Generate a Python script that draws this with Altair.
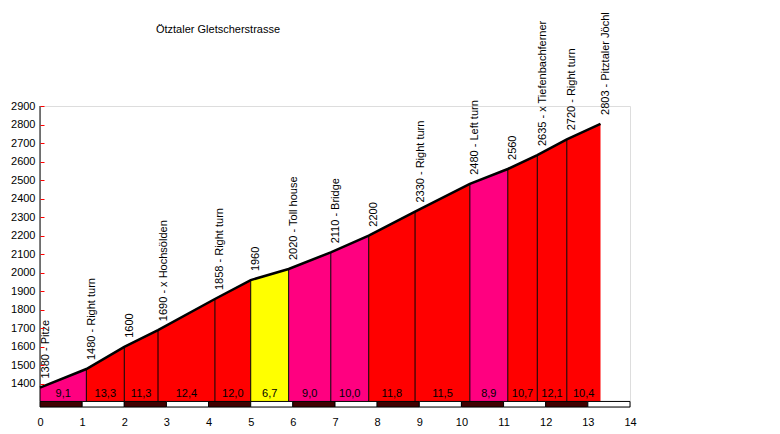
import altair as alt
import pandas as pd

TITLE = "Ötztaler Gletscherstrasse"
km = [0, 1.1, 2.0, 2.8, 4.15, 5.0, 5.9, 6.9, 7.8, 8.9, 10.2, 11.1, 11.8, 12.5, 13.3]
elev = [1380, 1480, 1600, 1690, 1858, 1960, 2020, 2110, 2200, 2330, 2480, 2560, 2635, 2720, 2803]
names = ["Pitze", "Right turn", "", "x Hochsölden", "Right turn", "", "Toll house",
         "Bridge", "", "Right turn", "Left turn", "", "x Tiefenbachferner",
         "Right turn", "Pitztaler Jöchl"]
grades = [9.1, 13.3, 11.3, 12.4, 12.0, 6.7, 9.0, 10.0, 11.8, 11.5, 8.9, 10.7, 12.1, 10.4]
x_ticks = list(range(0, 15))
y_ticks = list(range(1400, 3000, 100))

FONT = "Liberation Sans"
BASE = 1305
YMIN = 1275

pts = pd.DataFrame({"km": km, "elev": elev,
                    "label": [f"{e} - {n}" if n else f"{e}" for e, n in zip(elev, names)]})

seg_rows = []
for i, g in enumerate(grades):
    seg_rows.append({"seg": i, "km": km[i], "elev": elev[i], "grade": g})
    seg_rows.append({"seg": i, "km": km[i + 1], "elev": elev[i + 1], "grade": g})
segs = pd.DataFrame(seg_rows)

gl = pd.DataFrame({"km": [(km[i] + km[i + 1]) / 2 for i in range(len(grades))],
                   "txt": [f"{g:.1f}".replace(".", ",") for g in grades]})

stripes = pd.DataFrame({"km": x_ticks[:-1], "km2": x_ticks[1:]})

xs = alt.Scale(domain=[0, 14], nice=False)
ys = alt.Scale(domain=[YMIN, 2900], nice=False, zero=False)

XAX = alt.Axis(values=x_ticks, title=None, domain=False, ticks=False, grid=False,
               labelFont=FONT, labelFontSize=11, labelColor="black",
               labelPadding=9, format="d", labelFlush=False, labelOverlap=False,
               labelBound=False)
YAX = alt.Axis(values=y_ticks, title=None, domain=False, grid=False,
               tickColor="#ff0000", tickSize=4, tickWidth=1, offset=-4, zindex=1,
               labelFont=FONT, labelFontSize=11, labelColor="black",
               labelPadding=5, format="d", labelFlush=False, labelOverlap=False,
               labelBound=False)

X = alt.X("km:Q", scale=xs, axis=XAX)
Y = alt.Y("elev:Q", scale=ys, axis=YAX)
YB = alt.YDatum(BASE, scale=ys, axis=YAX)

stripe_layer = alt.Chart(stripes).mark_rect(stroke="black", strokeWidth=1).encode(
    x=X,
    x2="km2:Q",
    y=YB,
    y2=alt.datum(YMIN),
    fill=alt.when(alt.datum.km % 2 == 0).then(alt.value("#400000")).otherwise(alt.value("white")),
)

area = alt.Chart(segs).mark_area().encode(
    x=X, y=Y, y2=alt.datum(BASE),
    color=alt.Color("grade:Q", legend=None,
                    scale=alt.Scale(type="threshold", domain=[8, 10.2],
                                    range=["#ffff00", "#ff0080", "#ff0000"])),
    detail="seg:N",
)

rules = alt.Chart(pts.iloc[1:-1]).mark_rule(color="black", strokeWidth=1).encode(
    x=X, y=Y, y2=alt.datum(BASE))

axis_line = alt.Chart(pts.iloc[:1]).mark_rule(color="black", strokeWidth=1).encode(
    x=alt.XDatum(0, scale=xs, axis=XAX), y=alt.YDatum(2900, scale=ys, axis=YAX),
    y2=alt.datum(BASE))

line = alt.Chart(pts).mark_line(color="black", strokeWidth=2.5).encode(x=X, y=Y)

grade_txt = alt.Chart(gl).mark_text(font=FONT, fontSize=11, color="black",
                                    baseline="middle", dy=-7).encode(
    x=X, y=YB, text="txt:N")

pt_txt = alt.Chart(pts).mark_text(font=FONT, fontSize=11, color="black", angle=270,
                                  align="left", baseline="middle", dx=9, dy=5.5).encode(
    x=X, y=Y, text="label:N")

title = alt.Chart(pd.DataFrame({"t": [TITLE]})).mark_text(
    font=FONT, fontSize=11, color="black", baseline="middle", align="center").encode(
    x=alt.value(178), y=alt.value(-76), text="t:N")

chart = alt.layer(area, stripe_layer, rules, axis_line, line, grade_txt, pt_txt, title).properties(
    width=590, height=301,
    padding={"left": 32, "top": 98, "right": 142, "bottom": 27},
    autosize=alt.AutoSizeParams(type="none"),
).configure_view(stroke=None).configure(background="white")

chart.save("out.html", embed_options={"renderer": "svg", "actions": False})
